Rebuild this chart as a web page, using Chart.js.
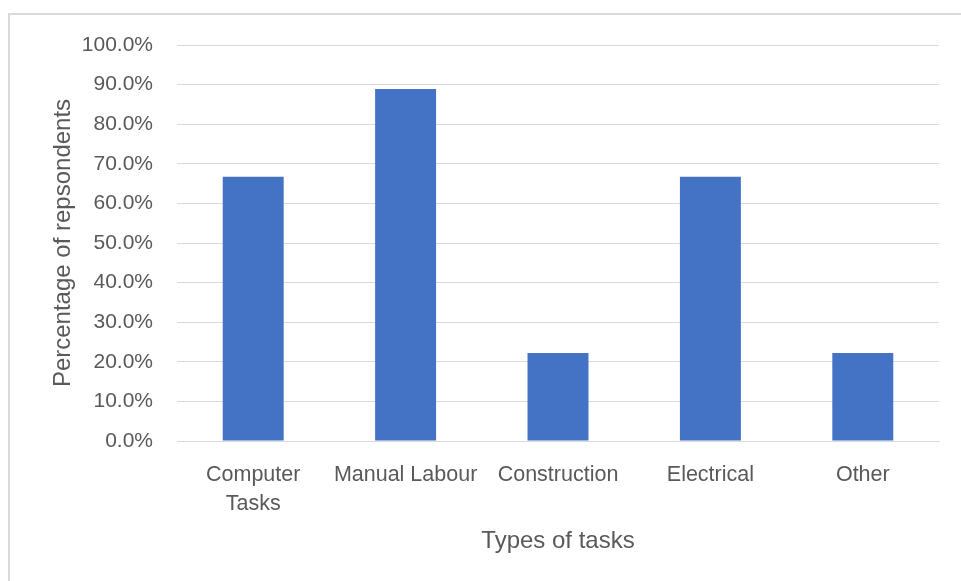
<!DOCTYPE html>
<html>
<head>
<meta charset="utf-8">
<script src="https://cdn.jsdelivr.net/npm/chart.js@4/dist/chart.umd.min.js"></script>
<style>
    html, body { margin: 0; padding: 0; background: #ffffff; }
    #wrap { width: 961px; height: 581px; position: relative; }
</style>
</head>
<body>
<div id="wrap"><canvas id="Tasks_Chart"></canvas></div>
<script>
// data
var categories = [['Computer', 'Tasks'], 'Manual Labour', 'Construction', 'Electrical', 'Other'];
var respondents = [66.7, 88.9, 22.2, 66.7, 22.2];   // percent
var yMin = 0, yMax = 100, yStep = 10;

// light grey frame round the chart, like the office export
var framePlugin = {
    id: 'frame',
    beforeDraw: function(chart) {
        var ctx = chart.ctx;
        ctx.save();
        ctx.fillStyle = '#ffffff';
        ctx.fillRect(0, 0, chart.width, chart.height);
        ctx.strokeStyle = '#d9d9d9';
        ctx.lineWidth = 2;
        ctx.strokeRect(9, 14, chart.width + 20, chart.height + 20);
        ctx.restore();
    }
};

var Tasks_Chart = null;

function createTasks_Chart() {
    var canvas = document.getElementById('Tasks_Chart');

    if (Tasks_Chart) {
        Tasks_Chart.destroy();
    }

    Tasks_Chart = new Chart(canvas, {
        type: 'bar',
        data: {
            labels: categories,
            datasets: [{
                data: respondents,
                backgroundColor: '#4472c4',
                borderWidth: 0,
                categoryPercentage: 1,
                barPercentage: 0.4
            }]
        },
        options: {
            responsive: true,
            maintainAspectRatio: false,
            animation: false,
            layout: {
                padding: { left: 41, top: 45, right: 22, bottom: 0 }
            },
            plugins: {
                legend: { display: false },
                tooltip: { enabled: false }
            },
            scales: {
                x: {
                    afterFit: function(scale) { scale.height = 140; },
                    grid: { display: false },
                    border: { display: true, color: '#d9d9d9', width: 1 },
                    ticks: {
                        color: '#595959',
                        padding: 12,
                        maxRotation: 0,
                        autoSkip: false,
                        font: { family: "'Liberation Sans', Arial, sans-serif", size: 21.5, lineHeight: 1.35 }
                    },
                    title: {
                        display: true,
                        text: 'Types of tasks',
                        color: '#595959',
                        padding: { top: 0, bottom: 25 },
                        font: { family: "'Liberation Sans', Arial, sans-serif", size: 24, lineHeight: 1.2 }
                    }
                },
                y: {
                    min: yMin,
                    max: yMax,
                    afterFit: function(scale) { scale.width = 177 - 41; },
                    grid: { color: '#d9d9d9', lineWidth: 1, drawTicks: false },
                    border: { display: false },
                    ticks: {
                        stepSize: yStep,
                        color: '#595959',
                        padding: 24,
                        font: { family: "'Liberation Sans', Arial, sans-serif", size: 21 },
                        callback: function(v) { return v.toFixed(1) + '%'; }
                    },
                    title: {
                        display: true,
                        text: 'Percentage of repsondents',
                        color: '#595959',
                        padding: { top: 7.6, bottom: 0 },
                        font: { family: "'Liberation Sans', Arial, sans-serif", size: 24, lineHeight: 1.2 }
                    }
                }
            }
        },
        plugins: [framePlugin]
    });
}

document.addEventListener('DOMContentLoaded', function() {
    createTasks_Chart();
});
</script>
</body>
</html>
